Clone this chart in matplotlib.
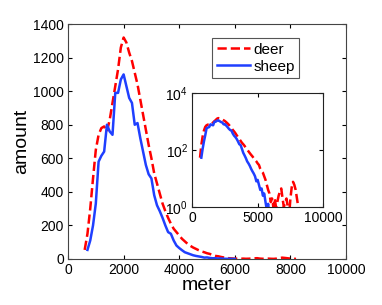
import matplotlib
matplotlib.use("Agg")
import matplotlib.pyplot as plt
from matplotlib.ticker import FixedLocator, NullLocator

plt.rcParams['font.family'] = ['Liberation Sans', 'DejaVu Sans']

# deer: 600 .. 8200 m, step 100
deer_x = list(range(600, 8300, 100))
deer_y = [54, 150, 300, 480, 650, 740, 780, 790, 760, 830,
          930, 1030, 1130, 1260, 1320, 1290, 1230, 1180, 1110, 1040,
          950, 860, 770, 680, 600, 510, 450, 390, 330, 285,
          245, 210, 180, 160, 140, 120, 105, 90, 78, 68,
          60, 52, 45, 40, 34, 30, 22, 18, 16, 12,
          9, 6, 4, 3, 1.5, 2, 1, 2, 1, 1.5,
          2.5, 3.5, 4.5, 2, 1, 1.5, 2, 1, 0.5, 2,
          5, 7.7, 6, 4, 2, 1, 0.5]

# sheep: 700 .. 6000 m, step 100
sheep_x = list(range(700, 6100, 100))
sheep_y = [54, 110, 200, 330, 580, 615, 640, 800, 760, 740,
           990, 990, 1070, 1100, 1030, 960, 930, 800, 810, 720,
           640, 560, 505, 480, 380, 320, 285, 245, 200, 160,
           150, 110, 80, 65, 52, 40, 34, 28, 22, 18,
           15, 12, 8, 9, 6, 4, 4.5, 2.5, 3, 1.5,
           0.8, 1.3, 0.5, 0.3]

fig = plt.figure(figsize=(3.82, 3.05), dpi=100)
ax = fig.add_axes([0.178, 0.151, 0.728, 0.770])

ax.plot(deer_x, deer_y, color='red', linestyle='--', linewidth=1.8, label='deer')
ax.plot(sheep_x, sheep_y, color='#1f3fff', linestyle='-', linewidth=1.8, label='sheep')
ax.set_xlim(0, 10000)
ax.set_ylim(0, 1400)
ax.set_xticks(range(0, 10001, 2000))
ax.set_yticks(range(0, 1401, 200))
ax.tick_params(direction='in', top=True, right=True, labelsize=10, length=3, pad=3)
ax.set_xlabel('meter', fontsize=14, labelpad=0)
ax.set_ylabel('amount', fontsize=14, labelpad=2)
for s in ax.spines.values():
    s.set_color('#444444')
    s.set_linewidth(0.8)

leg = ax.legend(loc='upper left', bbox_to_anchor=(0.555, 0.875),
                bbox_transform=fig.transFigure, borderaxespad=0,
                fontsize=11, fancybox=False, framealpha=1,
                handlelength=2.2, handletextpad=0.2, borderpad=0.3,
                labelspacing=0.2)
leg.get_frame().set_edgecolor('#555555')
leg.get_frame().set_linewidth(0.8)

ins = fig.add_axes([0.503, 0.321, 0.343, 0.374])
ins.plot(deer_x, deer_y, color='red', linestyle='--', linewidth=1.8)
ins.plot(sheep_x, sheep_y, color='#1f3fff', linestyle='-', linewidth=1.8)
ins.set_yscale('log')
ins.set_xlim(0, 10000)
ins.set_ylim(1, 10000)
ins.set_xticks([0, 5000, 10000])
ins.yaxis.set_major_locator(FixedLocator([1, 100, 10000]))
ins.yaxis.set_minor_locator(NullLocator())
ins.tick_params(direction='in', top=True, right=True, labelsize=10, length=3, pad=3)
ins.tick_params(which='minor', length=0)
for s in ins.spines.values():
    s.set_color('#222222')
    s.set_linewidth(0.8)

fig.savefig('out.png', dpi=100)
